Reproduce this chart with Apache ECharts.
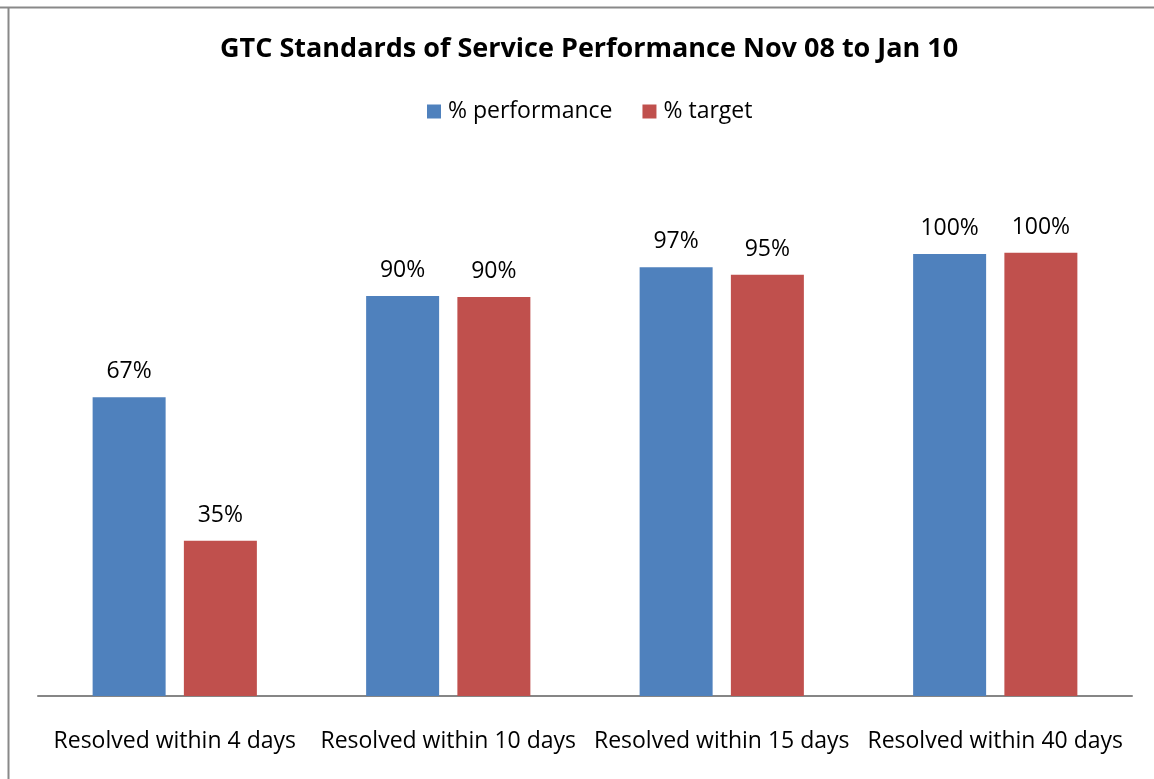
<!DOCTYPE html>
<html>
<head>
<meta charset="utf-8">
<script src="https://cdn.jsdelivr.net/npm/echarts@6/dist/echarts.min.js"></script>
<style>
  html, body { margin: 0; padding: 0; background: #fff; }
  #chart { width: 1154px; height: 779px; }
</style>
</head>
<body>
<div id="chart"></div>
<script>
const categories = ['Resolved within 4 days', 'Resolved within 10 days', 'Resolved within 15 days', 'Resolved within 40 days'];
const performance = [67.4, 90.2, 96.7, 99.7];
const target = [35, 90, 95, 100];
const seriesNames = ['% performance', '% target'];

const font = 'Open Sans';

var chart = echarts.init(document.getElementById('chart'));

var option = {
    animation: false,
    title: {
        text: 'GTC Standards of Service Performance Nov 08 to Jan 10',
        left: 215,
        top: 31,
        textStyle: { fontFamily: font, fontSize: 27, fontWeight: 'bold', color: '#000' }
    },
    legend: {
        top: 95,
        left: 422,
        itemWidth: 14,
        itemHeight: 14,
        itemGap: 30,
        icon: 'rect',
        textStyle: { fontFamily: font, fontSize: 23, color: '#000', padding: [0, 0, 0, 2] },
        data: seriesNames
    },
    graphic: [
        { type: 'line', shape: { x1: 0, y1: 7.5, x2: 1154, y2: 7.5 }, style: { stroke: '#898989', lineWidth: 2 } },
        { type: 'line', shape: { x1: 8.5, y1: 7, x2: 8.5, y2: 779 }, style: { stroke: '#898989', lineWidth: 2 } }
    ],
    grid: { left: 38, right: 22, top: 164, bottom: 83 },
    xAxis: {
        type: 'category',
        data: categories,
        axisLine: { lineStyle: { color: '#868686', width: 2 } },
        axisTick: { show: false },
        axisLabel: { fontFamily: font, fontSize: 23, color: '#000', margin: 34, interval: 0 }
    },
    yAxis: {
        type: 'value',
        min: 0,
        max: 120,
        show: false,
        splitLine: { show: false }
    },
    series: [
        {
            name: seriesNames[0],
            type: 'bar',
            data: performance,
            barWidth: 73,
            barGap: '25%',
            itemStyle: { color: '#4F81BD' },
            label: {
                show: true, position: 'top', distance: 14,
                fontFamily: font, fontSize: 23, color: '#000',
                formatter: p => Math.round(p.value) + '%'
            }
        },
        {
            name: seriesNames[1],
            type: 'bar',
            data: target,
            barWidth: 73,
            itemStyle: { color: '#C0504D' },
            label: {
                show: true, position: 'top', distance: 14,
                fontFamily: font, fontSize: 23, color: '#000',
                formatter: p => Math.round(p.value) + '%'
            }
        }
    ]
};

option && chart.setOption(option);
</script>
</body>
</html>
